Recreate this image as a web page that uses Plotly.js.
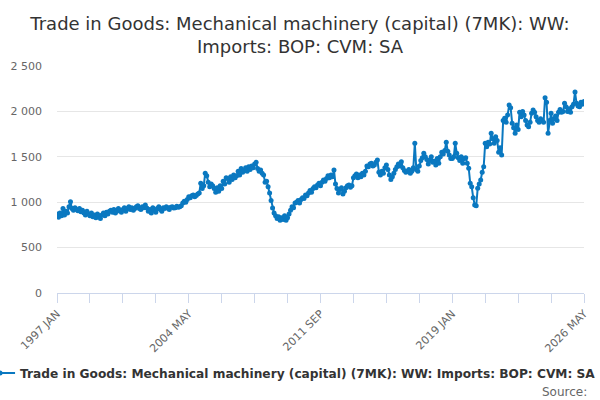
<!DOCTYPE html>
<html>
<head>
<meta charset="utf-8">
<script src="https://cdn.plot.ly/plotly-3.0.1.min.js"></script>
<style>
  html, body { margin: 0; padding: 0; background: #fff; }
  #graph { width: 600px; height: 400px; }
</style>
</head>
<body>
<div id="graph"></div>
<script>
// monthly series, 1997 JAN .. 2026 MAY
var startYear = 1997;
var monthNames = ['JAN', 'FEB', 'MAR', 'APR', 'MAY', 'JUN', 'JUL', 'AUG', 'SEP', 'OCT', 'NOV', 'DEC'];
var imports = [
  870, 835, 880, 850, 930, 860, 900, 880, 950, 1005, 930, 910,        // 1997
  940, 920, 905, 930, 895, 910, 880, 860, 900, 870, 850, 880,         // 1998
  840, 860, 830, 870, 850, 820, 860, 880, 850, 890, 870, 900,         // 1999
  910, 890, 920, 880, 900, 930, 910, 890, 920, 940, 900, 930,         // 2000
  950, 920, 940, 910, 930, 950, 960, 930, 920, 950, 940, 970,         // 2001
  935, 900, 920, 880, 940, 910, 890, 930, 950, 920, 900, 940,         // 2002
  930, 950, 940, 920, 945, 950, 935, 940, 955, 945, 950, 960,         // 2003
  990, 1010, 1000, 1030, 1060, 1050, 1070, 1080, 1060, 1075, 1090, 1100, // 2004
  1210, 1150, 1180, 1320, 1290, 1220, 1170, 1200, 1180, 1150, 1110, 1160, // 2005
  1120, 1180, 1150, 1230, 1200, 1270, 1260, 1220, 1280, 1250, 1300, 1270, // 2006
  1290, 1340, 1300, 1370, 1330, 1350, 1380, 1340, 1390, 1360, 1400, 1380, // 2007
  1420, 1440, 1370, 1340, 1355, 1320, 1300, 1220, 1230, 1170, 1100, 1020, // 2008
  935, 880, 850, 820, 840, 800, 830, 810, 850, 800, 830, 870,         // 2009
  910, 950, 940, 990, 1000, 1020, 990, 1030, 1050, 1040, 1080, 1070,  // 2010
  1100, 1130, 1110, 1150, 1170, 1160, 1190, 1210, 1180, 1220, 1245, 1230, // 2011
  1260, 1290, 1270, 1300, 1280, 1355, 1200, 1150, 1100, 1140, 1160, 1090, // 2012
  1120, 1160, 1180, 1190, 1165, 1180, 1270, 1290, 1310, 1270, 1300, 1280, // 2013
  1320, 1300, 1340, 1400, 1390, 1420, 1430, 1400, 1410, 1440, 1465, 1330, // 2014
  1300, 1340, 1320, 1380, 1410, 1360, 1300, 1250, 1280, 1320, 1360, 1390, // 2015
  1420, 1400, 1445, 1380, 1350, 1330, 1340, 1360, 1320, 1340, 1380, 1650, // 2016
  1360, 1340, 1400, 1460, 1490, 1540, 1500, 1470, 1420, 1460, 1500, 1440, // 2017
  1450, 1410, 1480, 1430, 1500, 1550, 1530, 1570, 1660, 1560, 1520, 1480, // 2018
  1480, 1500, 1650, 1540, 1490, 1460, 1500, 1430, 1480, 1490, 1430, 1375, // 2019
  1210, 1170, 1050, 970, 960, 1155, 1200, 1245, 1330, 1390, 1650, 1610,  // 2020
  1660, 1640, 1760, 1700, 1650, 1720, 1680, 1550, 1600, 1520, 1900, 1925, // 2021
  1880, 1960, 2070, 2040, 1870, 1820, 1760, 1850, 1800, 1990, 1940, 2000, // 2022
  1960, 1900, 1850, 1830, 1880, 1980, 2015, 1990, 1940, 1900, 1880, 1920, // 2023
  1900, 1880, 2150, 2100, 1760, 1900, 1980, 1870, 1920, 1950, 1900, 1990, // 2024
  2020, 1990, 2000, 2090, 2050, 2000, 2030, 1990, 2050, 2080, 2215, 2090, // 2025
  2060, 2050, 2100, 2080, 2110                                         // 2026
];
var tickLabels = ['1997 JAN', '2004 MAY', '2011 SEP', '2019 JAN', '2026 MAY'];
var tickStep = 22; // months between minor ticks

var months = imports.map(function(v, i) {
  return (startYear + Math.floor(i / 12)) + ' ' + monthNames[i % 12];
});
var tickVals = months.filter(function(m, i) { return i % tickStep === 0; });
var tickText = tickVals.map(function(m) { return tickLabels.indexOf(m) >= 0 ? m : ''; });

var seriesName = 'Trade in Goods: Mechanical machinery (capital) (7MK): WW: Imports: BOP: CVM: SA';
var blue = '#0a78c0';

Plotly.newPlot('graph', [{
  x: months,
  y: imports,
  type: 'scatter',
  mode: 'lines+markers',
  name: seriesName,
  line: {color: blue, width: 2},
  marker: {color: blue, size: 5},
  showlegend: true
}], {
  width: 600,
  height: 400,
  paper_bgcolor: '#fff',
  plot_bgcolor: '#fff',
  separators: '. ',
  font: {family: 'DejaVu Sans', color: '#666'},
  margin: {l: 57, r: 16, t: 66, b: 107, autoexpand: false},
  title: {
    text: 'Trade in Goods: Mechanical machinery (capital) (7MK): WW:<br>Imports: BOP: CVM: SA',
    x: 0.5, xanchor: 'center',
    y: 0.926, yanchor: 'top',
    font: {family: 'DejaVu Sans', size: 18, color: '#333'}
  },
  xaxis: {
    type: 'category',
    range: [0, imports.length - 1],
    tickmode: 'array',
    tickvals: tickVals,
    ticktext: tickText,
    tickangle: -45,
    ticks: 'outside',
    ticklen: 9,
    tickcolor: '#ccd6eb',
    showline: true,
    linecolor: '#ccd6eb',
    linewidth: 1,
    showgrid: false,
    tickfont: {size: 11, color: '#666'}
  },
  yaxis: {
    range: [0, 2500],
    dtick: 500,
    tickformat: ',d',
    showgrid: true,
    gridcolor: '#e6e6e6',
    zeroline: false,
    ticks: '',
    ticklabelstandoff: 14,
    tickfont: {size: 11, color: '#666'}
  },
  legend: {
    orientation: 'h',
    x: -0.146, xanchor: 'left',
    y: -0.352, yanchor: 'middle',
    itemwidth: 30,
    font: {size: 12.2, color: '#333', weight: 'bold'}
  },
  annotations: [{
    text: 'Source:',
    xref: 'paper', yref: 'paper',
    x: 1.0095, xanchor: 'right',
    y: -0.435, yanchor: 'middle',
    showarrow: false,
    font: {size: 12, color: '#666'}
  }]
}, {displayModeBar: false, responsive: false});
</script>
</body>
</html>
